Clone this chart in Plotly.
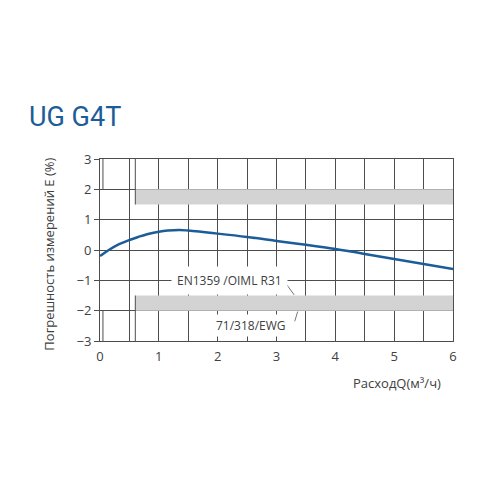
import plotly.graph_objects as go

# кривая погрешности счётчика UG G4T
flow_q = [0, 0.15, 0.3, 0.5, 0.65, 0.8, 1.0, 1.15, 1.35, 1.5, 2.0, 2.5, 3.0, 3.5, 4.0, 4.5, 5.0, 5.5, 6.0]
error_e = [-0.2, 0.0, 0.17, 0.33, 0.43, 0.52, 0.6, 0.64, 0.66, 0.64, 0.54, 0.43, 0.30, 0.17, 0.03, -0.13, -0.30, -0.46, -0.63]

# допустимые границы погрешности (серые полосы)
band_q = [0.6, 6.0]
band_upper = [1.5, 2.0]
band_lower = [-2.0, -1.5]
qmin_line = 0.05

x_ticks = [0, 1, 2, 3, 4, 5, 6]
y_ticks = [3, 2, 1, 0, -1, -2, -3]

GRID = '#4d4d4d'
BAND = '#d3d3d3'
TEXT = '#404040'
BLUE = '#1c5c99'

fig = go.Figure()

fig.add_trace(go.Scatter(x=flow_q, y=error_e, mode='lines',
                         line=dict(color=BLUE, width=2.5, shape='spline', smoothing=1.0),
                         showlegend=False, hoverinfo='skip'))

# полосы
for lo, hi in (band_upper, band_lower):
    fig.add_shape(type='rect', x0=band_q[0], x1=band_q[1], y0=lo, y1=hi,
                  fillcolor=BAND, line_width=0, layer='above')

# вертикальные линии у начала диапазона
fig.add_shape(type='line', x0=band_q[0], x1=band_q[0], y0=band_upper[0], y1=3,
              line=dict(color=GRID, width=1))
fig.add_shape(type='line', x0=band_q[0], x1=band_q[0], y0=-3, y1=band_lower[1],
              line=dict(color=GRID, width=1))
fig.add_shape(type='line', x0=qmin_line, x1=qmin_line, y0=band_upper[1], y1=3,
              line=dict(color=GRID, width=1))
fig.add_shape(type='line', x0=qmin_line, x1=qmin_line, y0=-3, y1=band_lower[0],
              line=dict(color=GRID, width=1))

# подписи норм
fig.add_annotation(x=2.2, y=-1, text='EN1359 /OIML R31', showarrow=False,
                   bgcolor='white', borderpad=5, font=dict(family='Open Sans', size=12, color=TEXT))
fig.add_shape(type='line', x0=3.12, x1=3.3, y0=-1.0, y1=-1.48, line=dict(color='#777', width=1))
fig.add_annotation(x=2.57, y=-2.5, text='71/318/EWG', showarrow=False,
                   bgcolor='white', borderpad=2, font=dict(family='Open Sans', size=12, color=TEXT))
fig.add_shape(type='line', x0=3.36, x1=3.31, y0=-2.03, y1=-2.35, line=dict(color='#777', width=1))

fig.add_annotation(xref='paper', yref='paper', x=-0.1445, xanchor='center', y=0.48, yanchor='middle',
                   textangle=-90, text='Погрешность измерений E (%)', showarrow=False,
                   font=dict(family='Open Sans', size=13, color=TEXT))
fig.add_annotation(xref='paper', yref='paper', x=0.842, xanchor='center', y=-0.231, yanchor='middle',
                   text='РасходQ(м³/ч)', showarrow=False,
                   font=dict(family='Open Sans', size=13, color=TEXT))

fig.update_layout(
    width=500, height=500,
    margin=dict(l=92, r=55, t=151, b=167),
    paper_bgcolor='white', plot_bgcolor='white',
    title=dict(text='UG G4T', x=0.042, xanchor='left', y=0.782, yanchor='middle',
               font=dict(family='Roboto', size=27, color=BLUE)),
    xaxis=dict(range=[0, 6], tickvals=x_ticks, showgrid=True, gridcolor=GRID, gridwidth=1,
               minor=dict(dtick=0.5, showgrid=True, gridcolor=GRID, gridwidth=1),
               showline=True, linecolor=GRID, mirror=True, zeroline=False,
               ticks='', ticklabelstandoff=3,
               tickfont=dict(family='Open Sans', size=13, color=TEXT)),
    yaxis=dict(range=[-3, 3], tickvals=y_ticks, showgrid=True, gridcolor=GRID, gridwidth=1,
               showline=True, linecolor=GRID, mirror=True, zeroline=False,
               ticks='outside', ticklen=5, tickcolor=GRID,
               tickfont=dict(family='Open Sans', size=13, color=TEXT)),
)

fig.write_html('out.html')
